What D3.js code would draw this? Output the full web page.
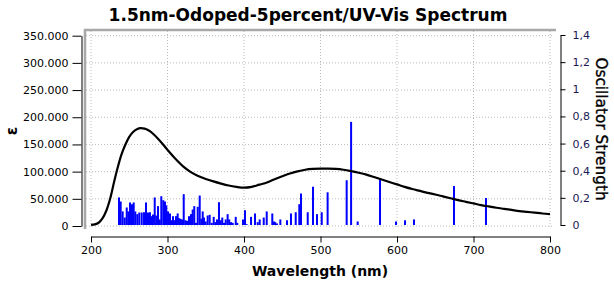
<!DOCTYPE html>
<html>
<head>
<meta charset="utf-8">
<script src="https://cdn.jsdelivr.net/npm/d3@7"></script>
<style>
body { margin: 0; background: #fff; }
text { font-family: "DejaVu Sans", sans-serif; }
</style>
</head>
<body>
<script>
// broadened spectrum (epsilon)
var spectrumNm = [200, 205, 210, 215, 220, 225, 230, 235, 240, 245, 250, 255, 260, 265, 270, 275, 280, 290, 300, 310, 320, 330, 340, 350, 360, 370, 380, 390, 400, 410, 420, 430, 440, 450, 460, 470, 480, 490, 500, 510, 520, 530, 540, 550, 560, 570, 580, 590, 600, 610, 620, 630, 640, 650, 660, 670, 680, 690, 700, 710, 720, 730, 740, 750, 760, 770, 780, 790, 800];
var spectrumEps = [2000, 3000, 6000, 14000, 28000, 50000, 80000, 108000, 132000, 150000, 164000, 173000, 178000, 180000, 179000, 176000, 171000, 157000, 140000, 124000, 110000, 99500, 92000, 86500, 82000, 78000, 74500, 72000, 70500, 72000, 76000, 80000, 86000, 91500, 96500, 100500, 103500, 105000, 105500, 105500, 105000, 103500, 101000, 98000, 94500, 90000, 85500, 81000, 76500, 72000, 68000, 64500, 61000, 58000, 54500, 51000, 47500, 44500, 41500, 38500, 36000, 33500, 31500, 29500, 27500, 26000, 24500, 23000, 22000];

// oscillator strengths
var stickNm = [236.6, 238.8, 241.4, 244.1, 246.7, 248.8, 251.0, 253.6, 255.8, 257.9, 260.5, 263.1, 266.3, 269.3, 271.9, 274.5, 277.1, 279.3, 281.0, 283.3, 285.4, 287.6, 289.8, 291.9, 294.5, 296.7, 298.4, 300.7, 303.3, 305.5, 307.2, 308.9, 311.1, 313.3, 315.0, 316.7, 319.0, 321.2, 323.3, 325.5, 328.1, 330.7, 332.9, 335.0, 337.3, 339.5, 342.1, 344.2, 346.0, 347.7, 349.9, 352.5, 355.1, 357.8, 360.4, 362.5, 364.7, 367.3, 369.5, 371.6, 373.9, 376.1, 378.6, 380.7, 383.0, 385.2, 389.2, 391.2, 398.7, 401.3, 403.5, 409.2, 414.4, 417.9, 420.5, 425.8, 429.7, 437.0, 439.2, 440.9, 443.1, 447.5, 456.2, 461.4, 467.6, 472.3, 474.5, 483.3, 490.2, 495.4, 501.6, 509.3, 534.2, 540.0, 548.6, 577.8, 598.7, 610.5, 622.2, 674.5, 716.3];
var stickF = [0.203, 0.173, 0.100, 0.055, 0.129, 0.100, 0.166, 0.153, 0.166, 0.100, 0.080, 0.092, 0.092, 0.094, 0.166, 0.092, 0.094, 0.065, 0.077, 0.203, 0.070, 0.139, 0.041, 0.212, 0.183, 0.173, 0.144, 0.100, 0.085, 0.035, 0.065, 0.035, 0.065, 0.085, 0.050, 0.046, 0.041, 0.227, 0.035, 0.031, 0.065, 0.080, 0.114, 0.139, 0.016, 0.134, 0.217, 0.046, 0.100, 0.055, 0.026, 0.070, 0.075, 0.016, 0.060, 0.021, 0.041, 0.168, 0.035, 0.055, 0.016, 0.041, 0.080, 0.041, 0.021, 0.016, 0.060, 0.016, 0.041, 0.109, 0.006, 0.060, 0.085, 0.021, 0.041, 0.055, 0.100, 0.085, 0.026, 0.021, 0.011, 0.041, 0.035, 0.085, 0.094, 0.153, 0.232, 0.094, 0.282, 0.080, 0.094, 0.241, 0.330, 0.760, 0.026, 0.346, 0.026, 0.035, 0.041, 0.287, 0.199];

var xTicks = [200, 300, 400, 500, 600, 700, 800];
var leftTicks = [0, 50000, 100000, 150000, 200000, 250000, 300000, 350000];
var rightTicks = [0, 0.2, 0.4, 0.6, 0.8, 1, 1.2, 1.4];

var width = 614, height = 282;

var svg = d3.select('body')
    .append('svg')
    .attr('width', width)
    .attr('height', height);

var x = d3.scaleLinear().domain([200, 800]).range([91, 550]);
var yL = d3.scaleLinear().domain([0, 350000]).range([226, 35.7]);
var yR = d3.scaleLinear().domain([0, 1.4]).range([225, 35]);

var loc = d3.formatLocale({decimal: ",", thousands: ".", grouping: [3], currency: ["", ""]});

// plot frame (top + left edge) and dotted grid
var grid = svg.append('g');
grid.selectAll('line.v')
    .data(xTicks)
    .enter().append('line')
    .attr('x1', d => x(d)).attr('x2', d => x(d))
    .attr('y1', 31).attr('y2', 229)
    .attr('stroke', '#bbb').attr('stroke-dasharray', '1,2');
grid.selectAll('line.h')
    .data(leftTicks)
    .enter().append('line')
    .attr('x1', 86).attr('x2', 554)
    .attr('y1', d => yL(d)).attr('y2', d => yL(d))
    .attr('stroke', '#bbb').attr('stroke-dasharray', '1,2');

svg.append('path')
    .attr('d', 'M85,229V30H556')
    .attr('fill', 'none')
    .attr('stroke', '#a8a8a8')
    .attr('stroke-width', 2.5);

// sticks
svg.append('g').selectAll('rect')
    .data(stickNm)
    .enter().append('rect')
    .attr('x', d => x(d) - 1)
    .attr('width', 2)
    .attr('y', (d, i) => yR(stickF[i]))
    .attr('height', (d, i) => yR(0) - yR(stickF[i]))
    .attr('fill', '#0000ff');

// curve
var line = d3.line()
    .x((d, i) => x(spectrumNm[i]))
    .y(d => yL(d))
    .curve(d3.curveCatmullRom);

svg.append('path')
    .datum(spectrumEps)
    .attr('d', line)
    .attr('fill', 'none')
    .attr('stroke', '#000')
    .attr('stroke-width', 2.2);

// axes
var gx = svg.append('g').attr('transform', 'translate(0,236.5)');
gx.call(d3.axisBottom(x).tickValues(d3.range(200, 801, 10)).tickSize(3).tickSizeOuter(0).tickFormat(''));
gx.call(d3.axisBottom(x).tickValues(xTicks).tickSize(6).tickSizeOuter(0).tickPadding(4).tickFormat(d3.format('d')));

var gl = svg.append('g').attr('transform', 'translate(81.5,0)');
gl.call(d3.axisLeft(yL).tickValues(leftTicks).tickSize(9).tickSizeOuter(0).tickPadding(4).tickFormat(loc.format(',')));

var gr = svg.append('g').attr('transform', 'translate(560.5,0)');
gr.call(d3.axisRight(yR).tickValues(d3.range(0, 15).map(d => d / 10)).tickSize(3).tickSizeOuter(0).tickFormat(''));
gr.call(d3.axisRight(yR).tickValues(rightTicks).tickSize(5).tickSizeOuter(0).tickPadding(7).tickFormat(loc.format('~g')));

svg.selectAll('.tick text')
    .attr('font-family', 'DejaVu Sans')
    .attr('font-size', 11)
    .attr('fill', '#000');
gr.selectAll('.tick text').attr('fill', '#1a1a55');
svg.selectAll('.domain, .tick line').attr('stroke', '#000');

// titles
svg.append('text')
    .attr('x', 308).attr('y', 21)
    .attr('text-anchor', 'middle')
    .attr('font-size', 17)
    .attr('font-weight', 'bold')
    .text('1.5nm-Odoped-5percent/UV-Vis Spectrum');

svg.append('text')
    .attr('x', 320).attr('y', 276)
    .attr('text-anchor', 'middle')
    .attr('font-size', 14)
    .attr('font-weight', 'bold')
    .text('Wavelength (nm)');

svg.append('text')
    .attr('transform', 'translate(17,131) rotate(-90)')
    .attr('text-anchor', 'middle')
    .attr('font-size', 15)
    .attr('font-weight', 'bold')
    .text('ε');

svg.append('text')
    .attr('transform', 'translate(596,129) rotate(90)')
    .attr('text-anchor', 'middle')
    .attr('font-size', 15.3)
    .attr('stroke', '#000')
    .attr('stroke-width', 0.35)
    .text('Oscillator Strength');
</script>
</body>
</html>
